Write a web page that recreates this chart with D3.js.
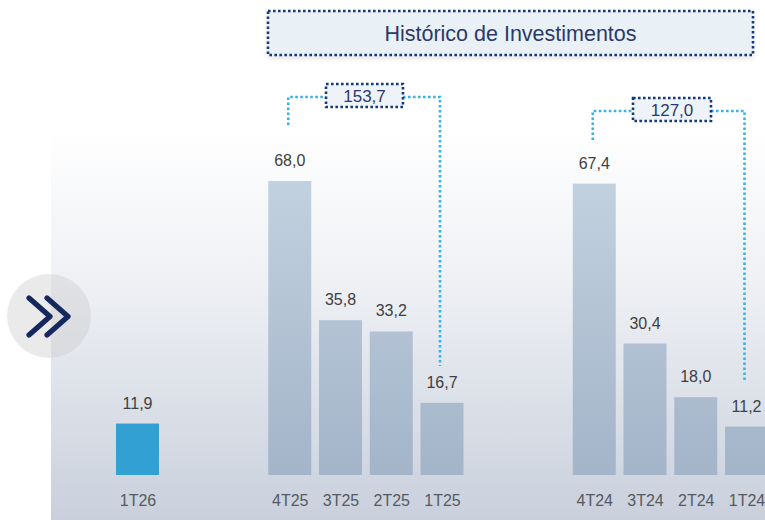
<!DOCTYPE html>
<html>
<head>
<meta charset="utf-8">
<script src="https://cdn.jsdelivr.net/npm/d3@7"></script>
<style>
html,body{margin:0;padding:0;background:#fff;}
svg{display:block;font-family:"Liberation Sans",Arial,sans-serif;}
</style>
</head>
<body>
<svg id="chart" width="765" height="520"></svg>
<script>
// ---- data ----
const categories = ["1T26","4T25","3T25","2T25","1T25","4T24","3T24","2T24","1T24"];
const values     = [11.9, 68.0, 35.8, 33.2, 16.7, 67.4, 30.4, 18.0, 11.2];
const valueLabels = ["11,9","68,0","35,8","33,2","16,7","67,4","30,4","18,0","11,2"];
const slots      = [0, 3, 4, 5, 6, 9, 10, 11, 12];   // position slot of each bar (gaps between groups)
const highlight  = ["1T26"];
const totalLabels = ["153,7","127,0"];
const totalFrom   = ["4T25","4T24"];
const totalTo     = ["1T25","1T24"];
const title = "Histórico de Investimentos";

// ---- layout ----
const svg = d3.select("#chart");
const W = 765, H = 520;
const baseY = 475;
const step = 50.75, bw = 43, x0 = 116;
const pad = (step - bw) / step;
const x = d3.scaleBand()
  .domain(d3.range(13))
  .range([x0 - (step - bw) / 2, x0 - (step - bw) / 2 + 13 * step])
  .paddingInner(pad).paddingOuter(pad / 2);
const y = d3.scaleLinear().domain([0, 68]).range([baseY, 181]);

const defs = svg.append("defs");
const bg = defs.append("linearGradient").attr("id","bg").attr("x1",0).attr("y1",0).attr("x2",0).attr("y2",1);
bg.append("stop").attr("offset","0%").attr("stop-color","#ffffff");
bg.append("stop").attr("offset","40%").attr("stop-color","#eef0f4");
bg.append("stop").attr("offset","100%").attr("stop-color","#c9d0dc");
const bar = defs.append("linearGradient").attr("id","bar").attr("gradientUnits","userSpaceOnUse")
  .attr("x1",0).attr("y1",181).attr("x2",0).attr("y2",baseY);
bar.append("stop").attr("offset","0%").attr("stop-color","#c1d1df");
bar.append("stop").attr("offset","100%").attr("stop-color","#a4b4c9");
const sh = defs.append("filter").attr("id","sh").attr("x","-5%").attr("y","-20%").attr("width","110%").attr("height","160%");
sh.append("feDropShadow").attr("dx",0).attr("dy",3).attr("stdDeviation",3).attr("flood-color","#000").attr("flood-opacity",0.12);

// background panel
svg.append("rect").attr("x",51).attr("y",128).attr("width",W-51).attr("height",H-128).attr("fill","url(#bg)");

// chevron circle
svg.append("circle").attr("cx",49).attr("cy",316).attr("r",42).attr("fill","#c8c8c8").attr("opacity",0.38);
const chev = svg.append("g").attr("fill","none").attr("stroke","#14285e").attr("stroke-width",5.2)
  .attr("stroke-linecap","round").attr("stroke-linejoin","round");
chev.append("path").attr("d","M29,298 L50,316.5 L29,335");
chev.append("path").attr("d","M47,298 L68,316.5 L47,335");

// bars
const data = categories.map((c,i)=>({c, v:values[i], lbl:valueLabels[i], s:slots[i]}));
svg.append("g").selectAll("rect").data(data).join("rect")
  .attr("x",d=>x(d.s)).attr("width",x.bandwidth())
  .attr("y",d=>y(d.v)).attr("height",d=>baseY-y(d.v))
  .attr("fill",d=>highlight.includes(d.c) ? "#33a0d4" : "url(#bar)");

// value labels
svg.append("g").selectAll("text").data(data).join("text")
  .attr("x",d=>x(d.s)+x.bandwidth()/2).attr("y",d=>y(d.v)-15)
  .attr("text-anchor","middle").attr("font-size",16).attr("fill","#404040")
  .text(d=>d.lbl);

// category axis (labels only)
const xa = d3.axisBottom(d3.scaleOrdinal().domain(categories).range(data.map(d=>x(d.s)+x.bandwidth()/2)))
  .tickSize(0).tickPadding(0);
const gAx = svg.append("g").attr("transform",`translate(0,${baseY})`).call(xa);
gAx.select(".domain").remove();
gAx.selectAll("text").attr("font-size",16).attr("fill","#555a62")
  .attr("font-family","'Liberation Sans',Arial,sans-serif").attr("dy",0).attr("y",31);

// brackets
const brTop = [97, 111];
const brLeftEnd = [125, 140];
const brRightEnd = [366, 382];
const brBox = [{x:326,y:84,w:77,h:23},{x:633,y:98,w:78,h:23}];
const byCat = Object.fromEntries(data.map(d=>[d.c,d]));
totalLabels.forEach((t,i)=>{
  const a = byCat[totalFrom[i]], b = byCat[totalTo[i]];
  const xl = x(a.s)+x.bandwidth()/2 - 1.5, xr = x(b.s)+x.bandwidth()/2 - 2;
  const box = brBox[i];
  const g = svg.append("g");
  g.append("path").attr("fill","none").attr("stroke","#3ab2e6").attr("stroke-width",2.6).attr("stroke-dasharray","2.6,2.4")
    .attr("d",`M${xl},${brLeftEnd[i]} V${brTop[i]} H${box.x} M${box.x+box.w},${brTop[i]} H${xr} V${brRightEnd[i]}`);
  g.append("rect").attr("x",box.x).attr("y",box.y).attr("width",box.w).attr("height",box.h)
    .attr("fill","#edf3f8").attr("stroke","#163a78").attr("stroke-width",2.6).attr("stroke-dasharray","2.6,2.4");
  g.append("text").attr("x",box.x+box.w/2).attr("y",box.y+box.h/2+6).attr("text-anchor","middle")
    .attr("font-size",17).attr("fill","#2b3a6b").text(t);
});

// title box
svg.append("rect").attr("x",268).attr("y",11).attr("width",485).attr("height",44)
  .attr("fill","#eaf1f6").attr("filter","url(#sh)");
svg.append("rect").attr("x",268).attr("y",11).attr("width",485).attr("height",44)
  .attr("fill","none").attr("stroke","#163a78").attr("stroke-width",2.6).attr("stroke-dasharray","2.6,2.4");
svg.append("text").attr("x",510.5).attr("y",40.5).attr("text-anchor","middle")
  .attr("font-size",21.5).attr("fill","#2b3a6b").text(title);
</script>
</body>
</html>
